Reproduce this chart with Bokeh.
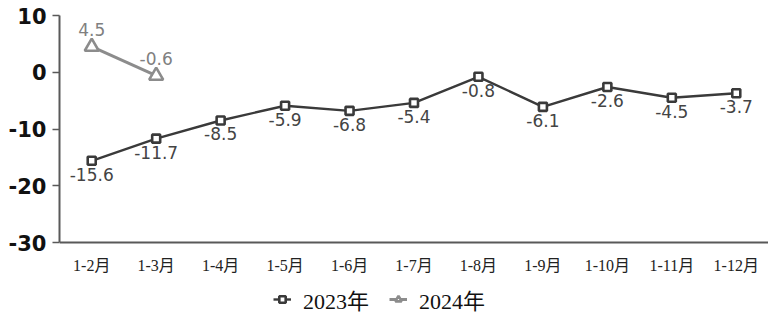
from bokeh.plotting import figure
from bokeh.models import ColumnDataSource, Range1d, FixedTicker, Legend, LegendItem, LabelSet
from bokeh.core.properties import value
from bokeh.embed import file_html
from bokeh.resources import INLINE

categories = ["1-2月", "1-3月", "1-4月", "1-5月", "1-6月", "1-7月", "1-8月", "1-9月", "1-10月", "1-11月", "1-12月"]
values_2023 = [-15.6, -11.7, -8.5, -5.9, -6.8, -5.4, -0.8, -6.1, -2.6, -4.5, -3.7]
categories_2024 = ["1-2月", "1-3月"]
values_2024 = [4.5, -0.6]
y_ticks = [10, 0, -10, -20, -30]
y_min, y_max = -30, 10

src23 = ColumnDataSource(dict(x=categories, y=values_2023, lab=[f"{v:.1f}" for v in values_2023]))
src24 = ColumnDataSource(dict(x=categories_2024, y=values_2024, lab=[f"{v:.1f}" for v in values_2024]))

# frame spans full height below the top border; data range -30..10 occupies 15..242 px
px_per_unit = (242 - 15) / (y_max - y_min)
y_start = y_min - (320 - 242) / px_per_unit

p = figure(width=768, height=320, x_range=categories, y_range=Range1d(y_start, y_max),
           output_backend="svg", toolbar_location=None,
           min_border_left=59, min_border_right=0, min_border_top=15, min_border_bottom=0)
p.outline_line_color = None
p.grid.visible = False
p.background_fill_color = "white"
p.border_fill_color = "white"

dark = "#3a3a3a"
grey = "#8c8c8c"

l23 = p.line("x", "y", source=src23, line_color=dark, line_width=2.4)
m23 = p.scatter("x", "y", source=src23, marker="square", size=8, fill_color="white",
                line_color=dark, line_width=2.6)
l24 = p.line("x", "y", source=src24, line_color=grey, line_width=3)
m24 = p.scatter("x", "y", source=src24, marker="triangle", size=14, fill_color="white",
                line_color=grey, line_width=2.6)

lab23 = LabelSet(x="x", y="y", text="lab", source=src23, x_offset=0, y_offset=-7,
                 text_align="center", text_baseline="top", text_font=value("DejaVu Sans"),
                 text_font_size=value("17px"), text_color="#444444")
lab24 = LabelSet(x="x", y="y", text="lab", source=src24, x_offset=0, y_offset=11,
                 text_align="center", text_baseline="bottom", text_font=value("DejaVu Sans"),
                 text_font_size=value("17px"), text_color="#808080")
p.add_layout(lab23)
p.add_layout(lab24)

ax = p.yaxis[0]
ax.ticker = FixedTicker(ticks=y_ticks)
ax.bounds = (y_min, y_max)
ax.major_label_overrides = {t: str(t) for t in y_ticks}
ax.axis_line_color = "#595959"
ax.axis_line_width = 2
ax.major_tick_line_color = "#595959"
ax.major_tick_line_width = 1.5
ax.major_tick_out = 7
ax.major_tick_in = 0
ax.minor_tick_line_color = None
ax.major_label_text_font = "DejaVu Sans"
ax.major_label_text_font_style = "bold"
ax.major_label_text_font_size = "21px"
ax.major_label_text_color = "#111111"
ax.major_label_standoff = 6

xa = p.xaxis[0]
xa.fixed_location = y_min
xa.axis_line_color = "#595959"
xa.axis_line_width = 2
xa.major_tick_line_color = None
xa.minor_tick_line_color = None
xa.major_label_text_font = "Liberation Serif, Noto Sans CJK SC"
xa.major_label_text_font_size = "16px"
xa.major_label_text_color = "#222222"
xa.major_label_standoff = 8

legend = Legend(items=[LegendItem(label="2023年", renderers=[l23, m23]),
                       LegendItem(label="2024年", renderers=[l24, m24])],
                orientation="horizontal", location=(214, 5),
                label_text_font="Liberation Serif, Noto Sans CJK SC",
                label_text_font_size="22px", label_text_color="#111111",
                glyph_width=18, glyph_height=16, label_standoff=12, spacing=20,
                border_line_color=None, background_fill_alpha=0, margin=0, padding=2)
p.add_layout(legend)

open("out.html", "w").write(file_html(p, INLINE))
